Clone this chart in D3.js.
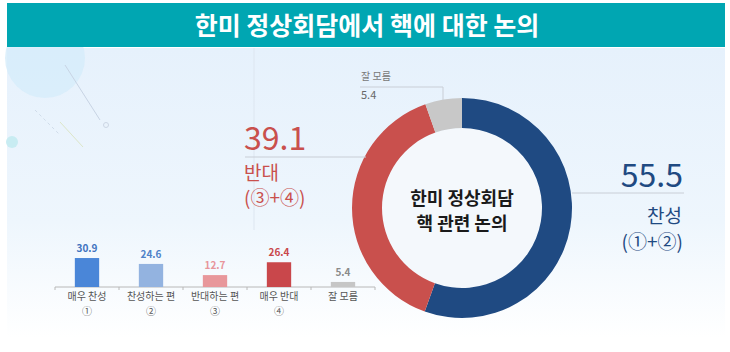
<!DOCTYPE html>
<html>
<head>
<meta charset="utf-8">
<script src="https://cdn.jsdelivr.net/npm/d3@7"></script>
<style>
  body { margin: 0; background: #fff; }
  svg { display: block; font-family: "Noto Sans CJK KR", "Noto Sans", sans-serif; }
</style>
</head>
<body>
<div id="chart"></div>
<script>
// data
const categories = ["매우 찬성", "찬성하는 편", "반대하는 편", "매우 반대", "잘 모름"];
const circled = ["①", "②", "③", "④", ""];
const values = [30.9, 24.6, 12.7, 26.4, 5.4];
const barColors = ["#4a86d8", "#93b3e0", "#e8979b", "#c9474b", "#c6c6c6"];
const labelColors = ["#3f73bf", "#4f82c8", "#e8959b", "#c9474b", "#8a8a8a"];

const groups = ["찬성", "반대", "잘 모름"];
const groupValues = [55.5, 39.1, 5.4];
const groupColors = ["#1f4a82", "#c9504d", "#c8c8c8"];

const width = 730, height = 352;

const svg = d3.select("#chart").append("svg")
    .attr("width", width)
    .attr("height", height);

// background
const defs = svg.append("defs");
const grad = defs.append("linearGradient")
    .attr("id", "bg").attr("x1", 0).attr("y1", 0).attr("x2", 0).attr("y2", 1);
grad.append("stop").attr("offset", "0%").attr("stop-color", "#e6f1fc");
grad.append("stop").attr("offset", "60%").attr("stop-color", "#eef6fd");
grad.append("stop").attr("offset", "100%").attr("stop-color", "#ffffff");

svg.append("rect")
    .attr("x", 7).attr("y", 48).attr("width", 718).attr("height", 290)
    .attr("fill", "url(#bg)");

// decoration top-left
svg.append("circle").attr("cx", 45).attr("cy", 58).attr("r", 40)
    .attr("fill", "#d6ecfa").attr("opacity", 0.8);
svg.append("circle").attr("cx", 12).attr("cy", 142).attr("r", 6)
    .attr("fill", "#c8ecf2");
svg.append("line").attr("x1", 65).attr("y1", 65).attr("x2", 100).attr("y2", 120)
    .attr("stroke", "#c8d4e4").attr("stroke-width", 1);
svg.append("line").attr("x1", 60).attr("y1", 122).attr("x2", 83).attr("y2", 147)
    .attr("stroke", "#dce6c8").attr("stroke-width", 1);
svg.append("line").attr("x1", 35).attr("y1", 110).attr("x2", 60).attr("y2", 135)
    .attr("stroke", "#d0dcea").attr("stroke-dasharray", "3,3");
svg.append("circle").attr("cx", 106).attr("cy", 125).attr("r", 2.5)
    .attr("fill", "none").attr("stroke", "#ccd6e4");

// faint vertical line
svg.append("line").attr("x1", 254).attr("y1", 48).attr("x2", 254).attr("y2", 230)
    .attr("stroke", "#dde6f0").attr("stroke-width", 1);

// header
svg.append("rect")
    .attr("x", 7).attr("y", 3).attr("width", 718).attr("height", 44)
    .attr("fill", "#00a6b2");
svg.append("text")
    .attr("x", 367).attr("y", 35)
    .attr("text-anchor", "middle")
    .attr("fill", "#fff")
    .attr("font-size", 25)
    .attr("font-weight", "bold")
    .text("한미 정상회담에서 핵에 대한 논의");

// bar chart
const margin = { left: 55, right: 375 };
const baseY = 287;

const x = d3.scaleBand()
    .domain(d3.range(categories.length))
    .range([margin.left, margin.right])
    .paddingInner(0.62)
    .paddingOuter(0.31);

const y = d3.scaleLinear()
    .domain([0, 40])
    .range([baseY, baseY - 37.5]);

svg.append("line")
    .attr("x1", margin.left).attr("x2", margin.right)
    .attr("y1", baseY).attr("y2", baseY)
    .attr("stroke", "#b8b8b8");

svg.append("g")
    .selectAll("line")
    .data(d3.range(categories.length + 1))
    .join("line")
    .attr("x1", i => margin.left + i * (margin.right - margin.left) / categories.length)
    .attr("x2", i => margin.left + i * (margin.right - margin.left) / categories.length)
    .attr("y1", baseY).attr("y2", baseY + 3)
    .attr("stroke", "#b8b8b8");

svg.append("g")
    .selectAll("rect")
    .data(values)
    .join("rect")
    .attr("x", (d, i) => x(i))
    .attr("y", d => y(d))
    .attr("width", x.bandwidth())
    .attr("height", d => baseY - y(d))
    .attr("fill", (d, i) => barColors[i]);

svg.append("g")
    .attr("text-anchor", "middle")
    .attr("font-size", 10)
    .attr("font-weight", "bold")
    .selectAll("text")
    .data(values)
    .join("text")
    .attr("x", (d, i) => x(i) + x.bandwidth() / 2)
    .attr("y", d => y(d) - 6)
    .attr("fill", (d, i) => labelColors[i])
    .text(d => d.toFixed(1));

const catG = svg.append("g")
    .attr("text-anchor", "middle")
    .attr("font-size", 10)
    .attr("fill", "#555");

catG.selectAll("text.cat")
    .data(categories)
    .join("text")
    .attr("class", "cat")
    .attr("x", (d, i) => x(i) + x.bandwidth() / 2)
    .attr("y", 300)
    .text(d => d);

catG.selectAll("text.num")
    .data(circled)
    .join("text")
    .attr("class", "num")
    .attr("x", (d, i) => x(i) + x.bandwidth() / 2)
    .attr("y", 315)
    .text(d => d);

// donut
const cx = 462, cy = 208;
const pie = d3.pie().sort(null).value(d => d);
const arc = d3.arc().innerRadius(80).outerRadius(110);

const donut = svg.append("g").attr("transform", `translate(${cx},${cy})`);
donut.append("circle").attr("r", 80).attr("fill", "#f4f8fc");
donut.selectAll("path")
    .data(pie(groupValues))
    .join("path")
    .attr("d", arc)
    .attr("fill", (d, i) => groupColors[i]);

donut.append("text")
    .attr("text-anchor", "middle")
    .attr("font-size", 18)
    .attr("font-weight", "bold")
    .attr("fill", "#1a1a1a")
    .selectAll("tspan")
    .data(["한미 정상회담", "핵 관련 논의"])
    .join("tspan")
    .attr("x", 0)
    .attr("y", (d, i) => -3 + i * 25)
    .text(d => d);

// callouts
svg.append("line").attr("x1", 572).attr("x2", 684).attr("y1", 193).attr("y2", 193)
    .attr("stroke", "#c9ced6");
svg.append("text").attr("x", 683).attr("y", 187).attr("text-anchor", "end")
    .attr("font-size", 32).attr("fill", "#1f4a82").text(groupValues[0].toFixed(1));
svg.append("text").attr("x", 682).attr("y", 223).attr("text-anchor", "end")
    .attr("font-size", 19).attr("fill", "#1f4a82").text(groups[0]);
svg.append("text").attr("x", 683).attr("y", 249).attr("text-anchor", "end")
    .attr("font-size", 19).attr("fill", "#1f4a82").text("(①+②)");

svg.append("line").attr("x1", 245).attr("x2", 366).attr("y1", 157).attr("y2", 157)
    .attr("stroke", "#c9ced6");
svg.append("text").attr("x", 244).attr("y", 150)
    .attr("font-size", 32).attr("fill", "#c9504d").text(groupValues[1].toFixed(1));
svg.append("text").attr("x", 244).attr("y", 180)
    .attr("font-size", 19).attr("fill", "#c9504d").text(groups[1]);
svg.append("text").attr("x", 244).attr("y", 205)
    .attr("font-size", 19).attr("fill", "#c9504d").text("(③+④)");

svg.append("polyline")
    .attr("points", "360,87 443,87 443,100")
    .attr("fill", "none").attr("stroke", "#c9ced6");
svg.append("text").attr("x", 361).attr("y", 80)
    .attr("font-size", 10).attr("fill", "#777").text(groups[2]);
svg.append("text").attr("x", 361).attr("y", 99)
    .attr("font-size", 11).attr("fill", "#666").text(groupValues[2].toFixed(1));
</script>
</body>
</html>
